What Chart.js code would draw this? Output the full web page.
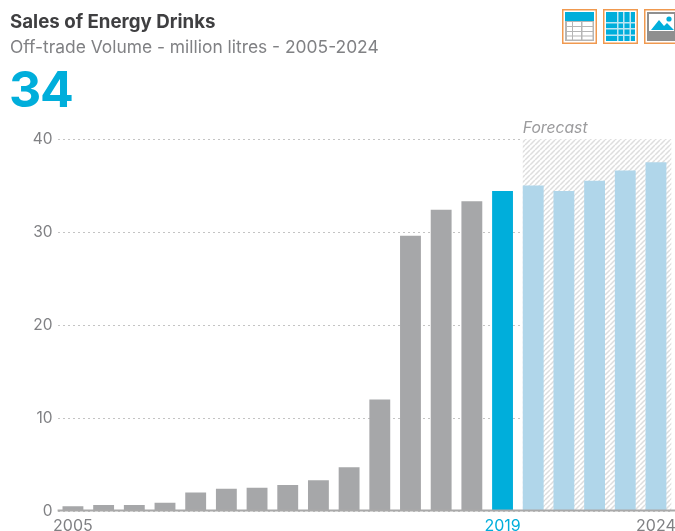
<!DOCTYPE html>
<html>
<head>
<meta charset="utf-8">
<script src="https://cdn.jsdelivr.net/npm/chart.js@4"></script>
<style>
  html, body { margin: 0; padding: 0; background: #fff; overflow: hidden; }
  #wrap { position: relative; width: 675px; height: 531px; font-family: Inter, Lato, sans-serif; }
  #c { position: absolute; left: 0; top: 0; }
  .t { position: absolute; white-space: nowrap; }
  #title { left: 10px; top: 10px; font-size: 18.7px; font-weight: 700; color: #3f3f41; }
  #sub { left: 10px; top: 36px; font-size: 17.4px; color: #808184; }
  #big { left: 9px; top: 60px; font-size: 50px; font-weight: 700; letter-spacing: -1.2px; color: #00aedb; line-height: 58px; }
  .ic { position: absolute; top: 9px; }
</style>
</head>
<body>
<div id="wrap">
  <canvas id="c" width="675" height="531"></canvas>
  <div class="t" id="title">Sales of Energy Drinks</div>
  <div class="t" id="sub">Off-trade Volume - million litres - 2005-2024</div>
  <div class="t" id="big">34</div>

  <svg class="ic" style="left:562px" width="35" height="35" viewBox="0 0 35 35">
    <rect x="0.75" y="0.75" width="33.5" height="33.5" fill="#fff" stroke="#f0994f" stroke-width="1.5"/>
    <rect x="3" y="3" width="29" height="29" fill="#b5b5b5"/>
    <rect x="3" y="3" width="29" height="9" fill="#00aedb"/>
    <g fill="#fff">
      <rect x="5" y="13" width="5" height="4"/><rect x="11" y="13" width="8" height="4"/><rect x="20.5" y="13" width="10" height="4"/>
      <rect x="5" y="18" width="5" height="4"/><rect x="11" y="18" width="8" height="4"/><rect x="20.5" y="18" width="10" height="4"/>
      <rect x="5" y="23" width="5" height="3.5"/><rect x="11" y="23" width="8" height="3.5"/><rect x="20.5" y="23" width="10" height="3.5"/>
      <rect x="5" y="27.5" width="5" height="3"/><rect x="11" y="27.5" width="8" height="3"/><rect x="20.5" y="27.5" width="10" height="3"/>
    </g>
  </svg>
  <svg class="ic" style="left:603px" width="35" height="35" viewBox="0 0 35 35">
    <rect x="0.75" y="0.75" width="33.5" height="33.5" fill="#fff" stroke="#f0994f" stroke-width="1.5"/>
    <rect x="3" y="3" width="29" height="29" fill="#00aedb"/>
    <g fill="#bfe6f3">
      <rect x="14" y="3" width="1.5" height="29"/><rect x="20" y="3" width="1.5" height="29"/><rect x="26.5" y="3" width="1.5" height="29"/>
      <rect x="3" y="13" width="29" height="1.5"/><rect x="3" y="19" width="29" height="1.5"/><rect x="3" y="25.5" width="29" height="1.5"/>
    </g>
  </svg>
  <svg class="ic" style="left:644px" width="35" height="35" viewBox="0 0 35 35">
    <rect x="0.75" y="0.75" width="33.5" height="33.5" fill="#fff" stroke="#f0994f" stroke-width="1.5"/>
    <rect x="3" y="3" width="29" height="29" fill="#8f8f8f"/>
    <rect x="5" y="5" width="25" height="17" fill="#fff"/>
    <path d="M7 21 L15 11 L20 17 L23 14 L30 21 Z" fill="#00aedb"/>
    <circle cx="25" cy="10" r="2.6" fill="#00aedb"/>
  </svg>
</div>
<script>
const years = ['2005','2006','2007','2008','2009','2010','2011','2012','2013','2014','2015','2016','2017','2018','2019','2020','2021','2022','2023','2024'];
const volume = [0.5,0.65,0.65,0.9,2.0,2.4,2.5,2.8,3.3,4.7,12.0,29.6,32.4,33.3,34.4,35.0,34.4,35.5,36.6,37.5];
const shownYears = ['2005','2019','2024'];
const yTicks = [0,10,20,30,40];
const currentYear = '2019';
const firstForecast = '2020';

const GREY = '#a6a7a9', BLUE = '#00aedb', LIGHT = '#b0d6ea';
const FONT = 'Inter, Lato, sans-serif';

const barColors = years.map(y => y === currentYear ? BLUE : (+y > +currentYear ? LIGHT : GREY));

// Tile of thin diagonal strokes for the forecast backdrop
function hatchTile() {
  const s = 5, tile = document.createElement('canvas');
  tile.width = s; tile.height = s;
  const g = tile.getContext('2d');
  g.fillStyle = '#fff'; g.fillRect(0, 0, s, s);
  g.strokeStyle = '#dedede'; g.lineWidth = 1.5;
  g.beginPath();
  for (let i = -s; i <= s * 2; i += s) { g.moveTo(i, s); g.lineTo(i + s, 0); }
  g.stroke();
  return tile;
}

const forecastBand = {
  id: 'forecastBand',
  beforeDatasetsDraw(chart) {
    const { ctx, chartArea: a, scales: { x, y } } = chart;
    const left = x.getPixelForValue(years.indexOf(firstForecast)) - chart.getDatasetMeta(0).data[0].width / 2;
    const top = y.getPixelForValue(40);
    ctx.save();
    ctx.fillStyle = ctx.createPattern(hatchTile(), 'repeat');
    ctx.fillRect(left, top, a.right - left, y.getPixelForValue(0) - top);
    ctx.fillStyle = '#9b9b9d';
    ctx.font = 'italic 15.7px ' + FONT;
    ctx.textAlign = 'left';
    ctx.textBaseline = 'bottom';
    ctx.fillText('Forecast', left, top - 3);
    ctx.restore();
  },
  // Baseline runs on past the plot edge to the right side of the canvas
  afterDatasetsDraw(chart) {
    const { ctx, chartArea: a, scales: { y } } = chart;
    const y0 = y.getPixelForValue(0) - 0.5;
    ctx.save();
    ctx.strokeStyle = '#a9a9a9';
    ctx.lineWidth = 2.2;
    ctx.beginPath();
    ctx.moveTo(a.left, y0);
    ctx.lineTo(chart.width, y0);
    ctx.stroke();
    ctx.restore();
  }
};

new Chart(document.getElementById('c'), {
  type: 'bar',
  data: {
    labels: years,
    datasets: [{ data: volume, backgroundColor: barColors, barPercentage: 0.68, categoryPercentage: 1 }]
  },
  plugins: [forecastBand],
  options: {
    responsive: false,
    animation: false,
    layout: { padding: { top: 139, right: 3.7, left: 0, bottom: 0 } },
    plugins: { legend: { display: false }, tooltip: { enabled: false }, title: { display: false } },
    scales: {
      x: {
        afterFit(s) { s.height = 20; s.paddingLeft = 0; s.paddingRight = 0; },
        grid: { display: false, drawTicks: false },
        border: { display: false },
        ticks: {
          autoSkip: false, maxRotation: 0, minRotation: 0, padding: 6,
          font: { family: FONT, size: 16 },
          color: c => years[c.index] === currentYear ? BLUE : '#808184',
          callback(v, i) { return shownYears.includes(years[i]) ? years[i] : ''; }
        }
      },
      y: {
        min: 0, max: 40,
        afterFit(s) { s.width = 57.6; s.paddingTop = 0; s.paddingBottom = 0; },
        afterBuildTicks(s) { s.ticks = yTicks.map(value => ({ value })); },
        grid: { color: '#c4c4c4', lineWidth: 1, drawTicks: false, z: 0 },
        border: { display: false, dash: [2, 3] },
        ticks: { padding: 5, font: { family: FONT, size: 15.5 }, color: '#808184' }
      }
    }
  }
});
</script>
</body>
</html>
